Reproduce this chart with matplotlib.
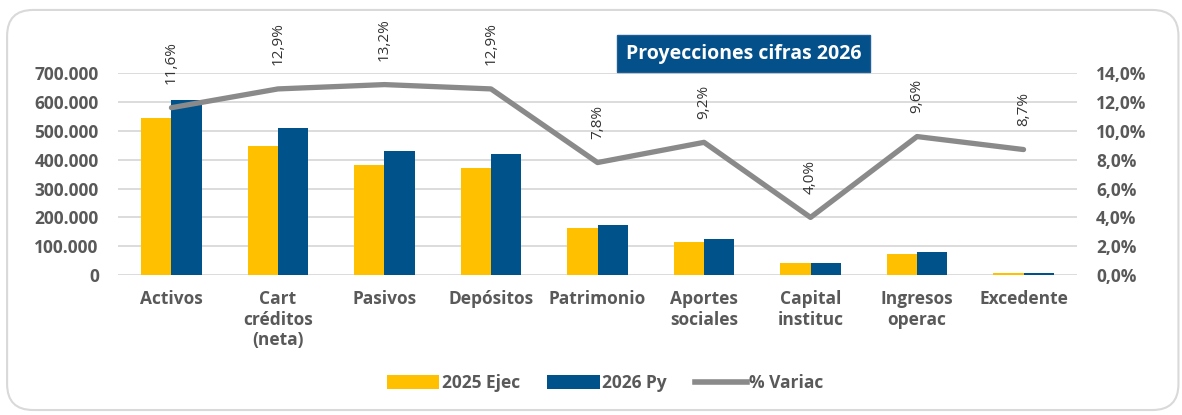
import matplotlib
matplotlib.use("Agg")
import matplotlib.pyplot as plt
from matplotlib.patches import FancyBboxPatch, Patch
from matplotlib.lines import Line2D
from matplotlib.ticker import FuncFormatter, MultipleLocator
import numpy as np

plt.rcParams['font.family'] = ['Open Sans', 'DejaVu Sans']
plt.rcParams['font.weight'] = 'bold'

# datos
categorias = ["Activos", "Cart\ncréditos\n(neta)", "Pasivos", "Depósitos", "Patrimonio",
              "Aportes\nsociales", "Capital\ninstituc", "Ingresos\noperac", "Excedente"]
ejec_2025 = [544000, 449000, 380000, 370000, 162000, 116000, 40500, 72000, 5800]
py_2026 = [607000, 508000, 430000, 418000, 174000, 125000, 42000, 79000, 6300]
variac = [11.6, 12.9, 13.2, 12.9, 7.8, 9.2, 4.0, 9.6, 8.7]

AMARILLO = "#FFC000"
AZUL = "#00528A"
GRIS = "#8A8A8A"
TEXTO = "#595959"

fig = plt.figure(figsize=(11.82, 4.15), dpi=100)
ax = fig.add_axes([0.1, 0.337, 0.811, 0.487])

x = np.arange(len(categorias))
w = 0.286
ax.bar(x - w / 2, ejec_2025, w, color=AMARILLO, zorder=2)
ax.bar(x + w / 2, py_2026, w, color=AZUL, zorder=2)

ax.set_ylim(0, 700000)
ax.set_xlim(-0.5, len(categorias) - 0.5)
ax.yaxis.set_major_locator(MultipleLocator(100000))
ax.yaxis.set_major_formatter(FuncFormatter(lambda v, p: "0" if v == 0 else f"{v:,.0f}".replace(",", ".")))
ax.grid(axis="y", color="#D9D9D9", linewidth=1.3, zorder=0)
ax.set_axisbelow(True)
for s in ax.spines.values():
    s.set_visible(False)
ax.set_xticks(x)
ax.set_xticklabels(categorias, linespacing=1.15, fontweight="bold")
ax.tick_params(axis="both", length=0, labelsize=12.5, labelcolor=TEXTO)
ax.tick_params(axis="y", pad=14)
ax.tick_params(axis="x", pad=11)

ax2 = ax.twinx()
ax2.plot(x, variac, color=GRIS, linewidth=3.8, solid_capstyle="round", zorder=3)
ax2.set_ylim(0, 14)
ax2.yaxis.set_major_locator(MultipleLocator(2))
ax2.yaxis.set_major_formatter(FuncFormatter(lambda v, p: f"{v:.1f}%".replace(".", ",")))
for s in ax2.spines.values():
    s.set_visible(False)
ax2.tick_params(axis="y", length=0, labelsize=12.5, labelcolor=TEXTO, pad=14)

for i, v in enumerate(variac):
    ax2.annotate(f"{v:.1f}%".replace(".", ","), (i, v), xytext=(0, 17),
                 textcoords="offset points", rotation=90, ha="center", va="bottom",
                 fontsize=11, fontweight="normal", color="#333333", annotation_clip=False)

# titulo en recuadro
fig.text(0.629, 0.871, "Proyecciones cifras 2026", color="white", fontsize=14,
         fontweight="bold", ha="center", va="center",
         bbox=dict(boxstyle="square,pad=0.45", facecolor="#03508A", edgecolor="#1F5F94"))

# leyenda
handles = [Patch(facecolor=AMARILLO, label="2025 Ejec"),
           Patch(facecolor=AZUL, label="2026 Py"),
           Line2D([0], [0], color=GRIS, linewidth=4, label="% Variac")]
leg = fig.legend(handles=handles, loc="center", bbox_to_anchor=(0.512, 0.077), ncol=3,
                 frameon=False, fontsize=12.5, handlelength=3.0, handleheight=0.85,
                 handletextpad=0.15, columnspacing=1.6)
for t in leg.get_texts():
    t.set_color(TEXTO)

# borde redondeado
borde = FancyBboxPatch((0.006, 0.012), 0.991, 0.964, boxstyle="round,pad=0,rounding_size=0.022",
                       mutation_aspect=1182 / 415, transform=fig.transFigure,
                       facecolor="none", edgecolor="#D9D9D9", linewidth=1.5)
fig.patches.append(borde)

fig.savefig("out.png", dpi=100)
